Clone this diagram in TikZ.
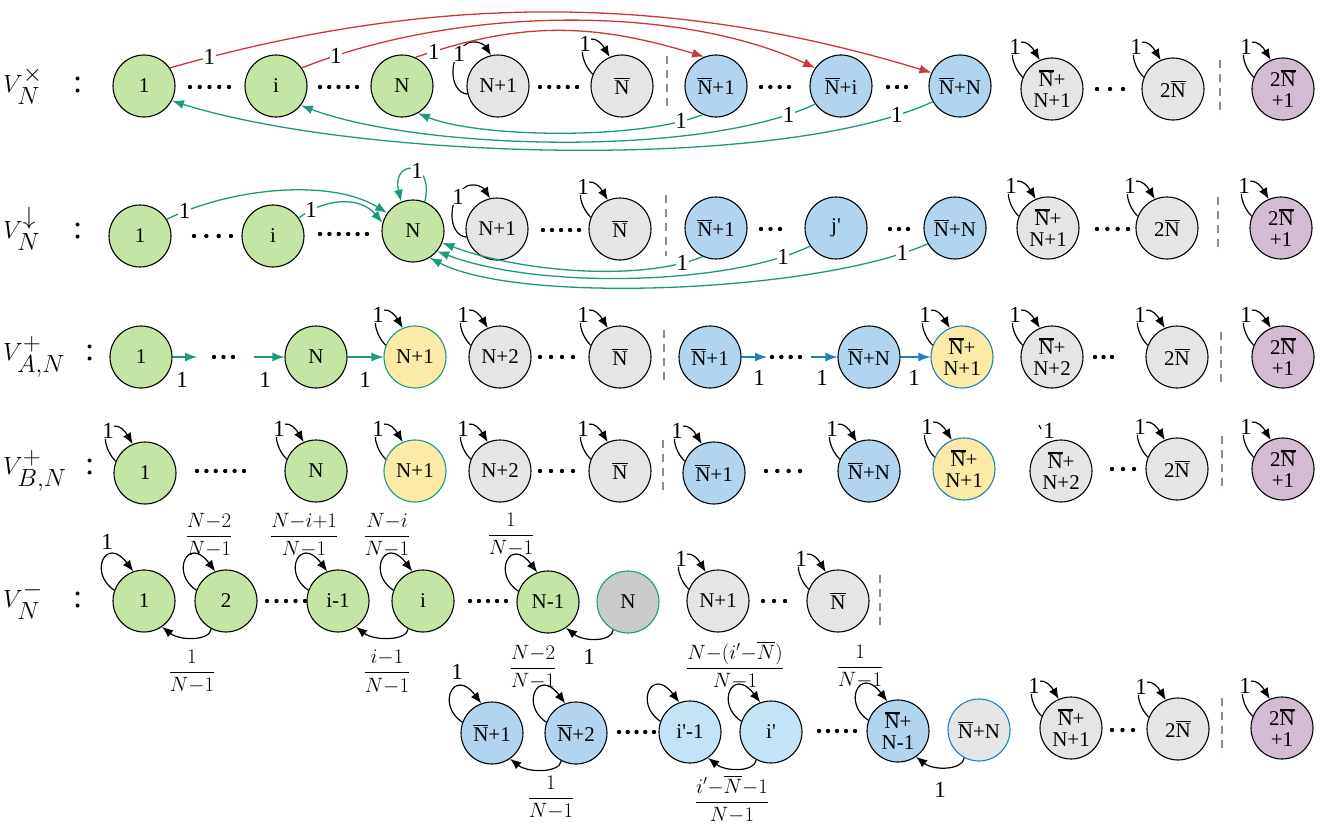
\documentclass[tikz,border=0pt]{standalone}
\usepackage{amsmath}
\usepackage{fontspec}
\setmainfont{Liberation Serif}
\usetikzlibrary{shapes.geometric,arrows.meta,calc}

\definecolor{fillG}{HTML}{C5E5A5}
\definecolor{fillL}{HTML}{E5E5E5}
\definecolor{fillD}{HTML}{CBCBCB}
\definecolor{fillB}{HTML}{B1D4EF}
\definecolor{fillC}{HTML}{C4E3F6}
\definecolor{fillP}{HTML}{D3BCD3}
\definecolor{fillY}{HTML}{FDEAA7}
\definecolor{lineT}{HTML}{1A9A7C}
\definecolor{lineR}{HTML}{D0343C}
\definecolor{lineB}{HTML}{1B80C2}
\definecolor{lineS}{HTML}{8C8C8C}

% N with a heavy bar over it
\newcommand{\Nb}{\leavevmode\vbox{\hrule height 1.4pt\kern 1.6pt\hbox{N}}}
\newcommand{\ap}{\textquotesingle}

% a run of n heavy dots between two x positions
\newcommand{\dotrun}[4]{\foreach \k in {1,...,#4}{\fill ({#1+(#2-#1)*(\k-1)/(#4-1)},#3) circle[radius=2.2pt];}}

% short self-loop with its weight on the upper left of a state
\newcommand{\selfloop}[1]{%
  \draw[lp] (#1.158) .. controls ($(#1)+(-40,-22)$) and ($(#1)+(-45,-44)$) .. ($(#1)+(-32,-47)$)
     .. controls ($(#1)+(-25,-48)$) and ($(#1)+(-20,-42)$) .. (#1.113);
  \node[elab] (#1w) at ($(#1)+(-37,-42)$) {1};}
% longer variant reaching down the left side
\newcommand{\selflooplong}[1]{%
  \draw[lp] (#1.195) .. controls ($(#1)+(-50,6)$) and ($(#1)+(-50,-32)$) .. ($(#1)+(-30,-43)$)
     .. controls ($(#1)+(-22,-46)$) and ($(#1)+(-14,-42)$) .. (#1.103);
  \node[elab] (#1w) at ($(#1)+(-39,-32)$) {1};}
% complete loop above a state
\newcommand{\fullloop}[1]{%
  \draw[lp] (#1.160) .. controls ($(#1)+(-56,-28)$) and ($(#1)+(-38,-66)$) .. (#1.110);}
% arc below two neighbouring states, from the right one to the left one
\newcommand{\backarc}[2]{%
  \draw[lp] (#1.-118) .. controls ($(#1)+(-16,40)$) and ($(#2)+(36,40)$) .. (#2.-55);}

\begin{document}
\begin{tikzpicture}[x=1pt,y=-1pt,
  st/.style={circle, draw=black, line width=1.1pt, minimum size=62pt,
             inner sep=0pt, align=center, font=\fontsize{21}{21}\selectfont},
  stG/.style={st, fill=fillG},
  stL/.style={st, fill=fillL},
  stD/.style={st, fill=fillD, draw=lineT},
  stB/.style={st, fill=fillB},
  stC/.style={st, fill=fillC},
  stP/.style={st, fill=fillP},
  stYT/.style={st, fill=fillY, draw=lineT},
  stYB/.style={st, fill=fillY, draw=lineB},
  stLB/.style={st, fill=fillL, draw=lineB},
  elab/.style={font=\fontsize{23}{23}\selectfont, inner sep=0.6pt, fill=white},
  plab/.style={font=\fontsize{23}{23}\selectfont, inner sep=0pt},
  frl/.style={font=\fontsize{20}{20}\selectfont, inner sep=0pt},
  rowlab/.style={anchor=west, font=\fontsize{33}{33}\selectfont, inner sep=0pt},
  lp/.style={draw=black, line width=1.2pt, -{Latex[length=11pt,width=9pt]}},
  ta/.style={draw=lineT, line width=1.3pt, -{Latex[length=12pt,width=9pt]}},
  ra/.style={draw=lineR, line width=1.3pt, -{Latex[length=12pt,width=9pt]}},
  ba/.style={draw=lineB, line width=1.3pt, -{Latex[length=12pt,width=9pt]}},
  sepl/.style={draw=lineS, line width=1.3pt, dash pattern=on 8pt off 6pt}]

\useasboundingbox (0,0) rectangle (1334,827);

% ---------------- row 1 ----------------
\node[rowlab] (L1) at (3,86) {\makebox[70pt][l]{$V_N^{\times}$}:};
\node[stG] (a1)  at (144,86) {1};
\node[stG] (ai)  at (276,86) {i};
\node[stG] (aN)  at (402,86) {N};
\node[stL] (aN1) at (498,86) {N+1};
\node[stL] (aNb) at (622,86) {\Nb};
\node[stB] (aB1) at (716,86) {\Nb+1};
\node[stB] (aBi) at (841,86) {\Nb+i};
\node[stB] (aBN) at (960,86) {\Nb+N};
\node[stL] (aBN1) at (1052,89) {\Nb+\\N+1};
\node[stL] (a2N) at (1173,89) {2\Nb};
\node[stP] (aP)  at (1283,89) {2\Nb\\+1};
\draw[sepl] (667,56) -- (667,112);
\draw[sepl] (1220,60) -- (1220,116);
\dotrun{190}{229}{87}{5}
\dotrun{320}{357}{87}{5}
\dotrun{540}{577}{87}{5}
\dotrun{761}{789}{87}{4}
\dotrun{888}{906}{87}{3}
\dotrun{1097}{1123}{89}{3}
\selflooplong{aN1}
\selfloop{aNb}
\selfloop{aBN1}
\selfloop{a2N}
\selfloop{aP}
\draw[ra] (a1.35) .. controls (434,-7) and (670,-7) .. (aBN.155) node[elab,pos=0.05] {1};
\draw[ra] (ai.35) .. controls (460,5) and (680,5) .. (aBi.145) node[elab,pos=0.07] {1};
\draw[ra] (aN.65) .. controls (520,22) and (590,22) .. (aB1.112) node[elab,pos=0.06] {1};
\draw[ta] (aB1.-115) .. controls (640,140) and (480,138) .. (aN.-60) node[elab,pos=0.1] {1};
\draw[ta] (aBi.-145) .. controls (700,158) and (420,150) .. (ai.-38) node[elab,pos=0.07] {1};
\draw[ta] (aBN.-150) .. controls (780,172) and (360,160) .. (a1.-28) node[elab,pos=0.07] {1};

% ---------------- row 2 ----------------
\node[rowlab] (L2) at (3,229) {\makebox[70pt][l]{$V_N^{\downarrow}$}:};
\node[stG] (b1)  at (140,236) {1};
\node[stG] (bi)  at (273,236) {i};
\node[stG] (bN)  at (413,231) {N};
\node[stL] (bN1) at (497,229) {N+1};
\node[stL] (bNb) at (620,229) {\Nb};
\node[stB] (bB1) at (716,228) {\Nb+1};
\node[stB] (bj)  at (836,228) {j\ap};
\node[stB] (bBN) at (955,228) {\Nb+N};
\node[stL] (bBN1) at (1048,228) {\Nb+\\N+1};
\node[stL] (b2N) at (1167,228) {2\Nb};
\node[stP] (bP)  at (1281,228) {2\Nb\\+1};
\draw[sepl] (666,195) -- (666,256);
\draw[sepl] (1218,197) -- (1218,253);
\dotrun{194}{231}{236}{4}
\dotrun{320}{367}{234}{6}
\dotrun{543}{579}{230}{5}
\dotrun{761}{780}{229}{3}
\dotrun{890}{908}{229}{3}
\dotrun{1097}{1128}{229}{4}
\selflooplong{bN1}
\selfloop{bNb}
\selfloop{bBN1}
\selfloop{b2N}
\selfloop{bP}
\draw[ta] (bN.68) .. controls ($(bN)+(22,-72)$) and ($(bN)+(-22,-72)$) .. (bN.112) node[elab,pos=0.42] {1};
\draw[ta] (b1.32) .. controls (230,188) and (330,178) .. (bN.145) node[elab,pos=0.09] {1};
\draw[ta] (bi.35) .. controls (325,198) and (360,196) .. (bN.165) node[elab,pos=0.15] {1};
\draw[ta] (bB1.-115) .. controls (640,282) and (520,272) .. (bN.-22) node[elab,pos=0.1] {1};
\draw[ta] (bj.-145) .. controls (730,285) and (540,290) .. (bN.-40) node[elab,pos=0.1] {1};
\draw[ta] (bBN.-150) .. controls (820,292) and (520,305) .. (bN.-58) node[elab,pos=0.07] {1};

% ---------------- row 3 ----------------
\node[rowlab] (L3) at (3,357) {\makebox[82pt][l]{$V_{A,N}^{+}$}:};
\node[stG] (c1)   at (141,357) {1};
\node[stG] (cN)   at (316,357) {N};
\node[stYT] (cN1) at (415,357) {N+1};
\node[stL] (cN2)  at (500,357) {N+2};
\node[stL] (cNb)  at (620,357) {\Nb};
\node[stB] (cB1)  at (710,357) {\Nb+1};
\node[stB] (cBN)  at (869,357) {\Nb+N};
\node[stYB] (cBN1) at (962,357) {\Nb+\\N+1};
\node[stL] (cBN2) at (1052,357) {\Nb+\\N+2};
\node[stL] (c2N)  at (1177,357) {2\Nb};
\node[stP] (cP)   at (1283,357) {2\Nb\\+1};
\draw[sepl] (664,330) -- (664,384);
\draw[sepl] (1221,332) -- (1221,386);
\dotrun{214}{233}{357}{3}
\dotrun{540}{573}{357}{4}
\dotrun{772}{800}{357}{4}
\dotrun{1095}{1112}{357}{3}
\selfloop{cN1}
\selfloop{cN2}
\selfloop{cNb}
\selfloop{cBN1}
\selfloop{cBN2}
\selfloop{c2N}
\selfloop{cP}
\coordinate (c1e) at (197,357);
\coordinate (cNs) at (254,357);
\coordinate (cB1e) at (767,357);
\coordinate (cBNs) at (811,357);
\draw[ta] (c1.east) -- (c1e);
\draw[ta] (cNs) -- (cN.west);
\draw[ta] (cN.east) -- (cN1.west);
\draw[ba] (cB1.east) -- (cB1e);
\draw[ba] (cBNs) -- (cBN.west);
\draw[ba] (cBN.east) -- (cBN1.west);
\node[plab] (w31) at (182,380) {1};
\node[plab] (w32) at (265,380) {1};
\node[plab] (w33) at (365,380) {1};
\node[plab] (w34) at (759,378) {1};
\node[plab] (w35) at (822,378) {1};
\node[plab] (w36) at (914,378) {1};

% ---------------- row 4 ----------------
\node[rowlab] (L4) at (3,471) {\makebox[82pt][l]{$V_{B,N}^{+}$}:};
\node[stG] (d1)   at (145,473) {1};
\node[stG] (dN)   at (316,471) {N};
\node[stYT] (dN1) at (415,471) {N+1};
\node[stL] (dN2)  at (500,471) {N+2};
\node[stL] (dNb)  at (620,471) {\Nb};
\node[stB] (dB1)  at (714,473) {\Nb+1};
\node[stB] (dBN)  at (869,471) {\Nb+N};
\node[stYB] (dBN1) at (964,469) {\Nb+\\N+1};
\node[stL] (dBN2) at (1061,471) {\Nb+\\N+2};
\node[stL] (d2N)  at (1177,469) {2\Nb};
\node[stP] (dP)   at (1283,469) {2\Nb\\+1};
\draw[sepl] (663,440) -- (663,496);
\draw[sepl] (1222,436) -- (1222,492);
\dotrun{197}{244}{471}{6}
\dotrun{540}{573}{471}{4}
\dotrun{766}{800}{471}{4}
\dotrun{1112}{1134}{469}{3}
\selfloop{d1}
\selfloop{dN}
\selfloop{dN1}
\selfloop{dN2}
\selfloop{dNb}
\selfloop{dB1}
\selfloop{dBN}
\selfloop{dBN1}
\selfloop{d2N}
\selfloop{dP}
\draw[line width=1.2pt] ($(dBN2)+(-22,-46)$) -- ($(dBN2)+(-20,-42)$);
\node[plab] (dBN2w) at ($(dBN2)+(-12,-40)$) {1};

% ---------------- row 5 ----------------
\node[rowlab] (L5) at (3,601) {\makebox[70pt][l]{$V_N^{-}$}:};
\node[stG] (e1)  at (144,601) {1};
\node[stG] (e2)  at (226,601) {2};
\node[stG] (ei1) at (338,601) {i-1};
\node[stG] (ei)  at (423,601) {i};
\node[stG] (eN1) at (548,602) {N-1};
\node[stD] (eN)  at (628,602) {N};
\node[stL] (eM1) at (718,601) {N+1};
\node[stL] (eNb) at (838,601) {\Nb};
\draw[sepl] (880,575) -- (880,628);
\dotrun{267}{305}{601}{5}
\dotrun{470}{506}{601}{5}
\dotrun{763}{785}{601}{3}
\fullloop{e1}
\fullloop{e2}
\fullloop{ei1}
\fullloop{ei}
\fullloop{eN1}
\selfloop{eM1}
\selfloop{eNb}
\backarc{e2}{e1}
\backarc{ei}{ei1}
\backarc{eN}{eN1}
\node[plab] (t51) at (107,542) {1};
\node[frl] (t52) at (209,535) {$\dfrac{N{-}2}{N{-}1}$};
\node[frl] (t53) at (304,535) {$\dfrac{N{-}i{+}1}{N{-}1}$};
\node[frl] (t54) at (387,535) {$\dfrac{N{-}i}{N{-}1}$};
\node[frl] (t55) at (511,535) {$\dfrac{1}{N{-}1}$};
\node[frl] (b51) at (192,672) {$\dfrac{1}{N{-}1}$};
\node[frl] (b52) at (387,672) {$\dfrac{i{-}1}{N{-}1}$};
\node[plab] (b53) at (589,657) {1};

% ---------------- row 6 ----------------
\node[stB] (f1)  at (492,733) {\Nb+1};
\node[stB] (f2)  at (576,733) {\Nb+2};
\node[stC] (fi1) at (690,732) {i\ap-1};
\node[stC] (fi)  at (771,732) {i\ap};
\node[stB] (fN1) at (898,731) {\Nb+\\N-1};
\node[stLB] (fN) at (979,730) {\Nb+N};
\node[stL] (fM1) at (1071,728) {\Nb+\\N+1};
\node[stL] (f2N) at (1178,729) {2\Nb};
\node[stP] (fP)  at (1282,728) {2\Nb\\+1};
\draw[sepl] (1222,698) -- (1222,754);
\dotrun{619}{654}{732}{5}
\dotrun{819}{855}{731}{5}
\dotrun{1112}{1133}{730}{3}
\fullloop{f1}
\fullloop{f2}
\fullloop{fi1}
\fullloop{fi}
\fullloop{fN1}
\selfloop{fM1}
\selfloop{f2N}
\selfloop{fP}
\backarc{f2}{f1}
\backarc{fi}{fi1}
\backarc{fN}{fN1}
\node[plab] (t61) at (457,672) {1};
\node[frl] (t62) at (533,667) {$\dfrac{N{-}2}{N{-}1}$};
\node[frl] (t63) at (735,665) {$\dfrac{N{-}(i'{-}\overline{N})}{N{-}1}$};
\node[frl] (t64) at (860,667) {$\dfrac{1}{N{-}1}$};
\node[frl] (b61) at (551,798) {$\dfrac{1}{N{-}1}$};
\node[frl] (b62) at (732,799) {$\dfrac{i'{-}\overline{N}{-}1}{N{-}1}$};
\node[plab] (b63) at (940,790) {1};

\end{tikzpicture}
\end{document}
